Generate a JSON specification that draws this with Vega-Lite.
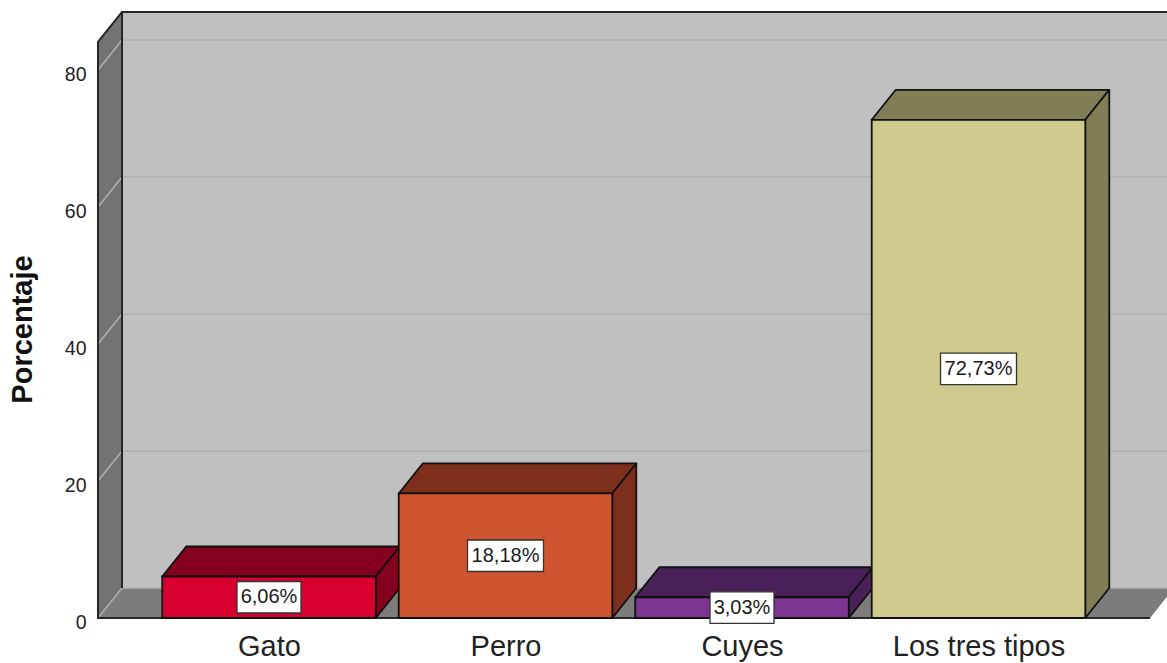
{
"$schema":"https://vega.github.io/schema/vega-lite/v6.json",
"width":1069,"height":618,
"autosize":{"type":"none"},
"padding":{"left":98,"top":0,"right":0,"bottom":45},
"background":"#ffffff",
"config":{"view":{"stroke":null},"font":"Liberation Sans"},
"params":[
{"name":"dx","value":0.10148},
{"name":"dp","value":4.38},
{"name":"xa","value":-0.72304},
{"name":"xb","value":3.725},
{"name":"ymax","value":84.1},
{"name":"hw","value":0.4515}
],
"datasets":{
"barras":[
{"categoria":"Gato","posicion":0,"porcentaje":6.06,"etiqueta":"6,06%"},
{"categoria":"Perro","posicion":1,"porcentaje":18.18,"etiqueta":"18,18%"},
{"categoria":"Cuyes","posicion":2,"porcentaje":3.03,"etiqueta":"3,03%"},
{"categoria":"Los tres tipos","posicion":3,"porcentaje":72.73,"etiqueta":"72,73%"}
],
"marcas":[{"valor":0},{"valor":20},{"valor":40},{"valor":60},{"valor":80}],
"marco":[{"pieza":"fondo"}]
},
"encoding":{
"x":{"field":"px","type":"quantitative","scale":{"domain":[-0.72304,3.79704],"nice":false,"zero":false},
"axis":{"values":[0,1,2,3],"labelExpr":"['Gato','Perro','Cuyes','Los tres tipos'][datum.value]","domain":false,"ticks":false,"grid":false,"title":null,"labelFontSize":29,"labelColor":"#222222","labelPadding":14,"labelFlush":false,"labelOverlap":false}},
"y":{"field":"ya","type":"quantitative","scale":{"domain":[0,90.22],"nice":false},
"axis":{"values":[0,20,40,60,80],"domain":false,"ticks":false,"grid":false,"title":"Porcentaje","titleFontSize":29,"titleFontWeight":"bold","titleColor":"#111111","titleX":-61,"titleY":329,"labelFontSize":19.5,"labelColor":"#222222","labelPadding":12,"labelOffset":4}}
},
"layer":[
{"data":{"name":"marco"},
"transform":[{"calculate":"xa+dx","as":"px"},{"calculate":"xb+dx","as":"px2"},{"calculate":"dp","as":"ya"},{"calculate":"ymax+dp","as":"yb"}],
"mark":{"type":"rect","fill":"#C0C0C0","clip":true},
"encoding":{"x2":{"field":"px2"},"y2":{"field":"yb"}}},
{"data":{"name":"marco"},
"transform":[{"calculate":"[{x:xa,a:0,b:ymax},{x:xa+dx,a:dp,b:ymax+dp}]","as":"p"},{"flatten":["p"]},{"calculate":"datum.p.x","as":"px"},{"calculate":"datum.p.a","as":"ya"},{"calculate":"datum.p.b","as":"yb"}],
"mark":{"type":"area","fill":"#737373"},
"encoding":{"y2":{"field":"yb"}}},
{"data":{"name":"marco"},
"transform":[{"calculate":"[{x:xa,a:0,b:0},{x:xa+dx,a:0,b:dp},{x:xb,a:0,b:dp},{x:xb+dx,a:dp,b:dp}]","as":"p"},{"flatten":["p"]},{"calculate":"datum.p.x","as":"px"},{"calculate":"datum.p.a","as":"ya"},{"calculate":"datum.p.b","as":"yb"}],
"mark":{"type":"area","fill":"#7C7C7C","clip":true},
"encoding":{"y2":{"field":"yb"}}},
{"data":{"name":"marcas"},
"transform":[{"calculate":"[{k:0,x:xa,y:datum.valor},{k:1,x:xa+dx,y:datum.valor+dp},{k:2,x:xb+dx,y:datum.valor+dp}]","as":"p"},{"flatten":["p"]},{"calculate":"datum.p.x","as":"px"},{"calculate":"datum.p.y","as":"ya"},{"calculate":"datum.p.k","as":"k"}],
"mark":{"type":"line","stroke":"#B0B0B0","strokeWidth":1.5,"clip":true},
"encoding":{"detail":{"field":"valor"},"order":{"field":"k"}}},
{"data":{"name":"marco"},
"transform":[{"calculate":"[{t:0,k:0,x:xb,y:0},{t:0,k:1,x:xa,y:0},{t:0,k:2,x:xa,y:ymax},{t:0,k:3,x:xa+dx,y:ymax+dp},{t:0,k:4,x:xb+dx,y:ymax+dp},{t:1,k:0,x:xa+dx,y:dp},{t:1,k:1,x:xa+dx,y:ymax+dp}]","as":"p"},{"flatten":["p"]},{"calculate":"datum.p.x","as":"px"},{"calculate":"datum.p.y","as":"ya"},{"calculate":"datum.p.k","as":"k"},{"calculate":"datum.p.t","as":"t"}],
"mark":{"type":"line","stroke":"#262626","strokeWidth":2,"clip":false},
"encoding":{"detail":{"field":"t"},"order":{"field":"k"}}},
{"data":{"name":"barras"},
"transform":[{"calculate":"datum.posicion-hw","as":"l"},{"calculate":"datum.posicion+hw","as":"r"},{"calculate":"[{x:datum.l,a:datum.porcentaje,b:datum.porcentaje},{x:datum.l+dx,a:datum.porcentaje,b:datum.porcentaje+dp},{x:datum.r,a:datum.porcentaje,b:datum.porcentaje+dp},{x:datum.r+dx,a:datum.porcentaje+dp,b:datum.porcentaje+dp}]","as":"p"},{"flatten":["p"]},{"calculate":"datum.p.x","as":"px"},{"calculate":"datum.p.a","as":"ya"},{"calculate":"datum.p.b","as":"yb"},{"calculate":"datum.categoria+' oscuro'","as":"tono"}],
"mark":{"type":"area","stroke":"#111111","strokeWidth":1.8,"strokeJoin":"round"},
"encoding":{"y2":{"field":"yb"},"detail":{"field":"categoria"},"fill":{"field":"tono","type":"nominal","legend":null,"scale":{"domain":["Gato oscuro","Perro oscuro","Cuyes oscuro","Los tres tipos oscuro","Gato claro","Perro claro","Cuyes claro","Los tres tipos claro"],"range":["#84001E","#7E2F1C","#4A2058","#807D57","#D7002F","#CF5430","#7C3590","#CFCA8D"]}}}},
{"data":{"name":"barras"},
"transform":[{"calculate":"datum.posicion+hw","as":"r"},{"calculate":"[{x:datum.r,a:0,b:datum.porcentaje},{x:datum.r+dx,a:dp,b:datum.porcentaje+dp}]","as":"p"},{"flatten":["p"]},{"calculate":"datum.p.x","as":"px"},{"calculate":"datum.p.a","as":"ya"},{"calculate":"datum.p.b","as":"yb"},{"calculate":"datum.categoria+' oscuro'","as":"tono"}],
"mark":{"type":"area","stroke":"#111111","strokeWidth":1.8,"strokeJoin":"round"},
"encoding":{"y2":{"field":"yb"},"detail":{"field":"categoria"},"fill":{"field":"tono","type":"nominal","legend":null}}},
{"data":{"name":"barras"},
"transform":[{"calculate":"datum.posicion-hw","as":"px"},{"calculate":"datum.posicion+hw","as":"px2"},{"calculate":"0","as":"ya"},{"calculate":"datum.porcentaje","as":"yb"},{"calculate":"datum.categoria+' claro'","as":"tono"}],
"mark":{"type":"rect","stroke":"#111111","strokeWidth":1.8},
"encoding":{"x2":{"field":"px2"},"y2":{"field":"yb"},"fill":{"field":"tono","type":"nominal","legend":null}}},
{"data":{"name":"barras"},
"transform":[{"calculate":"(length(datum.etiqueta)==5?32:38)/236.5","as":"m"},{"calculate":"datum.posicion-datum.m","as":"px"},{"calculate":"datum.posicion+datum.m","as":"px2"},{"calculate":"datum.porcentaje/2-2.3","as":"ya"},{"calculate":"datum.porcentaje/2+2.3","as":"yb"}],
"mark":{"type":"rect","fill":"#ffffff","stroke":"#333333","strokeWidth":1.3,"clip":false},
"encoding":{"x2":{"field":"px2"},"y2":{"field":"yb"}}},
{"data":{"name":"barras"},
"transform":[{"calculate":"datum.posicion","as":"px"},{"calculate":"datum.porcentaje/2","as":"ya"}],
"mark":{"type":"text","fontSize":20,"color":"#1a1a1a","baseline":"middle","align":"center","dy":0},
"encoding":{"text":{"field":"etiqueta"}}}
]
}
